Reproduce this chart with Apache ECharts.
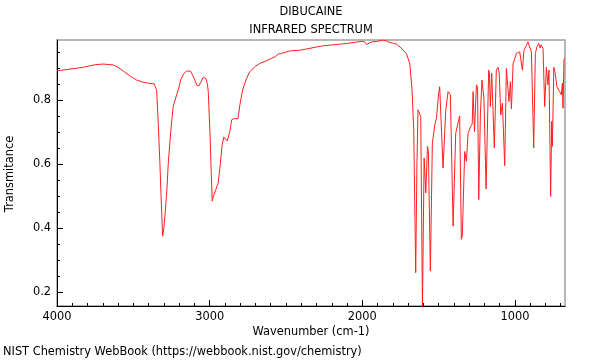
<!DOCTYPE html>
<html>
<head>
<meta charset="utf-8">
<script src="https://cdn.jsdelivr.net/npm/echarts@6/dist/echarts.min.js"></script>
<style>html,body{margin:0;padding:0;background:#fff}#c{width:600px;height:360px}</style>
</head>
<body>
<div id="c"></div>
<script>
const titleLines = ["DIBUCAINE", "INFRARED SPECTRUM"];
const xAxisName = "Wavenumber (cm-1)";
const yAxisName = "Transmitance";
const footer = "NIST Chemistry WebBook (https://webbook.nist.gov/chemistry)";
const xTickLabels = [4000, 3000, 2000, 1000];
const yTickLabels = [0.2, 0.4, 0.6, 0.8];

const wavenumber = [
4000,3900,3828,3750,3697,3631,3600,3560,3520,3478,3440,3400,3363,3352,3347,3336,3326,3316,3308,3300,
3293,3280,3271,3255,3239,3216,3200,3190,3170,3150,3140,3125,3118,3100,3085,3070,3055,3042,3024,3015,
3009,2998,2990,2983,2975,2960,2944,2930,2918,2907,2895,2885,2878,2868,2856,2840,2815,2800,2784,2760,
2737,2700,2671,2630,2594,2570,2551,2530,2475,2409,2257,2103,2000,1985,1972,1960,1940,1900,1864,1840,
1820,1795,1776,1743,1711,1689,1674,1663,1650,1642,1635,1624,1617,1606,1595,1584,1573,1567,1554,1541,
1525,1514,1500,1493,1485,1471,1453,1438,1423,1405,1388,1377,1362,1351,1345,1329,1318,1307,1296,1290,
1280,1274,1265,1252,1245,1237,1226,1216,1203,1189,1172,1167,1161,1152,1145,1135,1122,1111,1103,1093,
1082,1067,1056,1048,1039,1030,1023,1012,1000,991,980,969,960,951,941,925,915,905,892,884,
877,866,856,844,835,828,816,805,794,784,777,766,759,755,745,735,725,707,696,689,
685,679,673
];
const transmittance = [
0.891,0.897,0.902,0.910,0.912,0.909,0.902,0.888,0.874,0.862,0.856,0.852,0.850,0.849,0.830,0.720,0.604,0.470,0.375,0.400,
0.437,0.520,0.603,0.700,0.779,0.816,0.840,0.862,0.882,0.890,0.891,0.890,0.888,0.866,0.846,0.844,0.858,0.871,0.867,0.850,
0.826,0.700,0.580,0.484,0.500,0.520,0.541,0.600,0.660,0.684,0.683,0.672,0.668,0.700,0.738,0.742,0.741,0.790,0.831,0.865,
0.888,0.905,0.914,0.922,0.930,0.935,0.943,0.945,0.953,0.955,0.969,0.976,0.983,0.981,0.973,0.978,0.981,0.983,0.987,0.984,
0.979,0.977,0.974,0.961,0.945,0.914,0.831,0.707,0.261,0.600,0.769,0.772,0.748,0.150,0.619,0.510,0.655,0.639,0.266,0.665,
0.722,0.743,0.820,0.841,0.838,0.588,0.769,0.826,0.816,0.406,0.696,0.701,0.750,0.365,0.375,0.639,0.608,0.696,0.691,0.717,
0.725,0.826,0.701,0.847,0.840,0.489,0.759,0.862,0.805,0.522,0.893,0.885,0.779,0.883,0.878,0.650,0.893,0.902,0.885,0.753,
0.790,0.595,0.898,0.895,0.795,0.857,0.772,0.914,0.930,0.945,0.940,0.950,0.945,0.893,0.955,0.970,0.981,0.975,0.950,0.955,
0.650,0.945,0.966,0.976,0.962,0.972,0.961,0.779,0.902,0.847,0.893,0.499,0.733,0.655,0.902,0.880,0.841,0.826,0.816,0.852,
0.774,0.924,0.930
];

const X_MIN = 672, X_MAX = 4000, Y_MIN = 0.157, Y_MAX = 0.987;
const xMinor = []; for (let v = 700; v < 4000; v += 100) if (v % 1000) xMinor.push(v);
const yMinor = []; for (let v = 0.2; v < 0.99; v += 0.05) { const r = Math.round(v*100)/100; if (Math.round(r*100) % 20) yMinor.push(r); }

const font = "DejaVu Sans";
const txtFont = '11.4px "DejaVu Sans"';
const chart = echarts.init(document.getElementById('c'), null, {renderer: 'canvas'});
const data = wavenumber.map((w, i) => [w, transmittance[i]]);

chart.setOption({
  animation: false,
  textStyle: {fontFamily: font},
  grid: {left: 57, right: 35, top: 40, bottom: 54, show: true, borderColor: '#a0a0a0', borderWidth: 1.5, backgroundColor: 'transparent'},
  xAxis: [
    {type: 'value', inverse: true, min: X_MIN, max: X_MAX, position: 'bottom',
     axisLine: {show: true, onZero: false, lineStyle: {color: '#000', width: 1}},
     axisTick: {show: true, inside: true, length: 6, customValues: xTickLabels, lineStyle: {color: '#000'}},
     axisLabel: {show: true, customValues: xTickLabels, color: '#000', fontSize: 11.4, fontFamily: font, margin: 6,
                 formatter: v => String(v)},
     splitLine: {show: false}},
    {type: 'value', inverse: true, min: X_MIN, max: X_MAX, position: 'bottom', gridIndex: 0,
     axisLine: {show: false},
     axisTick: {show: true, inside: true, length: 3, customValues: xMinor, lineStyle: {color: '#000'}},
     axisLabel: {show: false}, splitLine: {show: false}}
  ],
  yAxis: [
    {type: 'value', min: Y_MIN, max: Y_MAX, position: 'left',
     axisLine: {show: true, onZero: false, lineStyle: {color: '#000', width: 1}},
     axisTick: {show: true, inside: true, length: 6, customValues: yTickLabels, lineStyle: {color: '#000'}},
     axisLabel: {show: true, customValues: yTickLabels, color: '#000', fontSize: 11.4, fontFamily: font, margin: 6,
                 formatter: v => v.toFixed(1)},
     splitLine: {show: false}},
    {type: 'value', min: Y_MIN, max: Y_MAX, position: 'left',
     axisLine: {show: false},
     axisTick: {show: true, inside: true, length: 3, customValues: yMinor, lineStyle: {color: '#000'}},
     axisLabel: {show: false}, splitLine: {show: false}}
  ],
  series: [{
    type: 'line', data: data, xAxisIndex: 0, yAxisIndex: 0,
    showSymbol: false, symbol: 'none', clip: true,
    lineStyle: {color: '#ff2020', width: 1}
  }],
  graphic: [
    {type: 'text', x: 311, y: 12, style: {text: titleLines[0], font: txtFont, fill: '#000', align: 'center', verticalAlign: 'middle'}},
    {type: 'text', x: 311, y: 30, style: {text: titleLines[1], font: txtFont, fill: '#000', align: 'center', verticalAlign: 'middle'}},
    {type: 'text', x: 311, y: 332, style: {text: xAxisName, font: txtFont, fill: '#000', align: 'center', verticalAlign: 'middle'}},
    {type: 'text', x: 10, y: 174, rotation: Math.PI/2, style: {text: yAxisName, font: txtFont, fill: '#000', align: 'center', verticalAlign: 'middle'}},
    {type: 'text', x: 3, y: 352, style: {text: footer, font: txtFont, fill: '#000', align: 'left', verticalAlign: 'middle'}}
  ]
});
</script>
</body>
</html>
